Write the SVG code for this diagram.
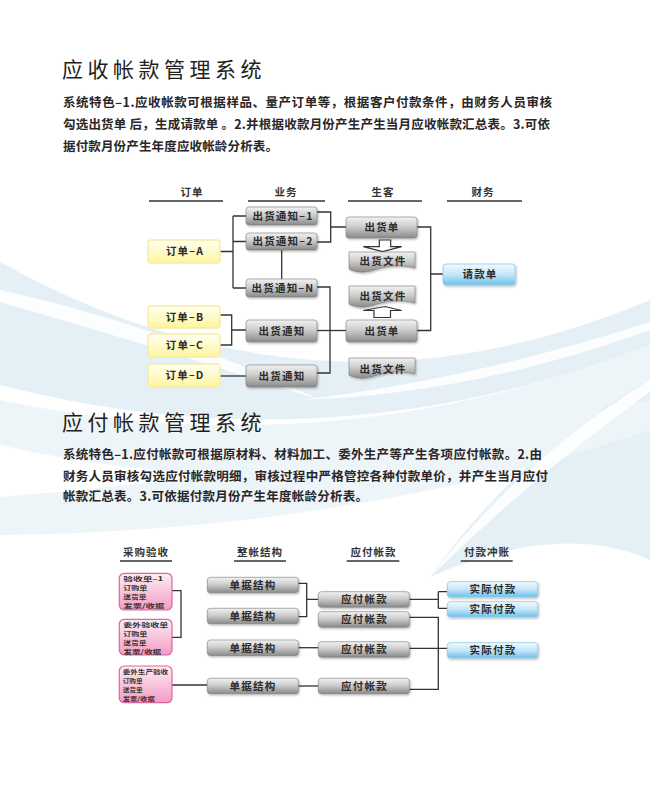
<svg xmlns="http://www.w3.org/2000/svg" width="650" height="791" viewBox="0 0 650 791">
<defs>
<linearGradient id="gGray" x1="0" y1="0" x2="0" y2="1">
<stop offset="0" stop-color="#f2f2f2"/><stop offset="0.45" stop-color="#cdcdcd"/><stop offset="1" stop-color="#8a8a8a"/>
</linearGradient>
<linearGradient id="gYellow" x1="0" y1="0" x2="0" y2="1">
<stop offset="0" stop-color="#fffff2"/><stop offset="1" stop-color="#fff59e"/>
</linearGradient>
<linearGradient id="gBlue" x1="0" y1="0" x2="0" y2="1">
<stop offset="0" stop-color="#f2faff"/><stop offset="0.5" stop-color="#c4e6f8"/><stop offset="1" stop-color="#6dc1ea"/>
</linearGradient>
<linearGradient id="gPink" x1="0" y1="0" x2="0" y2="1">
<stop offset="0" stop-color="#fdedf4"/><stop offset="1" stop-color="#f29cc4"/>
</linearGradient>
<filter id="sh" x="-10%" y="-20%" width="125%" height="160%">
<feDropShadow dx="1" dy="1.2" stdDeviation="0.8" flood-color="#000" flood-opacity="0.3"/>
</filter>
<style>
.t{font-family:"Noto Sans CJK SC","Noto Sans",sans-serif;fill:#231f20}
.title{font-size:21px;letter-spacing:4.5px}
.body{font-size:12.5px;font-weight:bold;fill:#2a2627}
.hdr{font-size:10.5px;letter-spacing:1px;text-anchor:middle;font-weight:bold;fill:#333}
.lbl{font-size:10.5px;letter-spacing:1.2px;text-anchor:middle;font-weight:bold;fill:#2b2b2b}
.pk{font-size:6.2px;font-weight:bold;fill:#333}
.hline{stroke:#333;stroke-width:1.6}
.conn path{fill:none;stroke:#333;stroke-width:1.3}
.gbox{fill:url(#gGray);stroke:#7c7c7c;stroke-width:0.6;filter:url(#sh)}
.ybox{fill:url(#gYellow);stroke:#f6eca6;stroke-width:1.4}
.bbox{fill:url(#gBlue);stroke:#8ecbe8;stroke-width:0.8;filter:url(#sh)}
.pbox{fill:url(#gPink);stroke:#e3639c;stroke-width:1.2}
.arr{fill:#fff;stroke:#333;stroke-width:1.2}
.bg1{fill:#e5f0f6}
.bg2{fill:#eef5f9}
.wh{fill:#fff;opacity:0.85}
</style>
</defs>
<rect width="650" height="791" fill="#fff"/>
<g id="background">
<path class="bg1" d="M0,262 Q320,440 650,300 L650,345 Q330,470 0,385 Z"/>
<path class="wh" d="M0,290 Q160,325 320,400 Q150,345 0,302 Z"/>
<path class="wh" d="M650,322 Q470,380 300,400 Q470,395 650,330 Z"/>
<path class="bg2" d="M0,400 Q330,470 650,345 L650,410 Q330,520 0,445 Z"/>
<path class="bg1" d="M430,577 Q520,450 650,380 L650,560 Q560,520 430,577 Z"/>
<path class="bg2" d="M0,497 Q330,470 650,400 L650,430 Q360,530 0,535 Z"/>
<path class="wh" d="M650,380 Q520,460 430,577 Q540,470 650,392 Z"/>
</g>

<g id="section1-text">
<text class="t title" x="62" y="77">应收帐款管理系统</text>
<text class="t body" x="63" y="107" textLength="489">系统特色–1.应收帐款可根据样品、量产订单等，根据客户付款条件，由财务人员审核</text>
<text class="t body" x="63" y="128.5" textLength="487">勾选出货单 后，生成请款单 。2.并根据收款月份产生产生当月应收帐款汇总表。3.可依</text>
<text class="t body" x="63" y="150.5" textLength="215">据付款月份产生年度应收帐龄分析表。</text>
</g>

<g id="headers1">
<text class="t hdr" x="192" y="196">订单</text>
<text class="t hdr" x="286" y="196">业务</text>
<text class="t hdr" x="383" y="196">生客</text>
<text class="t hdr" x="483" y="196">财务</text>
<line class="hline" x1="149" y1="201" x2="223" y2="201"/>
<line class="hline" x1="248" y1="201" x2="325" y2="201"/>
<line class="hline" x1="348" y1="201" x2="422" y2="201"/>
<line class="hline" x1="447" y1="201" x2="522" y2="201"/>
</g>

<g id="connectors1" class="conn">
<path d="M220,251.5 H233 M233,216 V288 M233,216 H246 M233,241.5 H246 M233,288 H246"/>
<path d="M281.7,250 V279"/>
<path d="M317,212 H330.7 V242 H317 M330.7,227 H346"/>
<path d="M317,287 H330 V373 H317"/>
<path d="M220,315 H231.7 V345 H220 M231.7,330 H246"/>
<path d="M317,330.5 H346"/>
<path d="M220,376 H246"/>
<path d="M417,227 H430.7 V330.5 H417 M430.7,274 H443"/>
</g>

<g id="order-a"><rect class="ybox" x="148" y="240" width="72" height="23" rx="3"/><text class="t lbl" x="185" y="255.2">订单–A</text></g>
<g id="order-b"><rect class="ybox" x="148" y="306" width="72" height="22" rx="3"/><text class="t lbl" x="185" y="320.7">订单–B</text></g>
<g id="order-c"><rect class="ybox" x="148" y="334" width="72" height="23" rx="3"/><text class="t lbl" x="185" y="349.2">订单–C</text></g>
<g id="order-d"><rect class="ybox" x="148" y="364" width="72" height="23" rx="3"/><text class="t lbl" x="185" y="379.2">订单–D</text></g>

<g id="notice-1"><rect class="gbox" x="246" y="207" width="71" height="18" rx="3"/><text class="t lbl" x="283" y="219.7">出货通知–1</text></g>
<g id="notice-2"><rect class="gbox" x="246" y="233" width="71" height="17" rx="3"/><text class="t lbl" x="283" y="245.2">出货通知–2</text></g>
<g id="notice-n"><rect class="gbox" x="246" y="279" width="71" height="18" rx="3"/><text class="t lbl" x="283" y="291.7">出货通知–N</text></g>
<g id="notice-bc"><rect class="gbox" x="246" y="320" width="71" height="22" rx="3"/><text class="t lbl" x="282" y="334.7">出货通知</text></g>
<g id="notice-d"><rect class="gbox" x="246" y="365" width="71" height="22" rx="3"/><text class="t lbl" x="282" y="379.7">出货通知</text></g>

<g id="ship-1"><rect class="gbox" x="346" y="217" width="71" height="21" rx="3"/><text class="t lbl" x="382" y="231.2">出货单</text></g>
<g id="arrow-down"><path class="arr" d="M379.3,240 H390.7 V246.7 H401.7 L382.5,251.7 L363.3,246.7 H379.3 Z"/></g>
<g id="doc-1"><path class="gbox" d="M349,252 H415 V268 C399,264 386,266 374,270 C365,273 357,273 349,269 Z"/><text class="t lbl" x="383" y="265.4">出货文件</text></g>
<g id="doc-2"><path class="gbox" d="M349,286 H415 V303 C399,299 386,301 374,305 C365,308 357,308 349,304 Z"/><text class="t lbl" x="383" y="300.4">出货文件</text></g>
<g id="arrow-up"><path class="arr" d="M374,317.5 H390.5 V310.5 H401.7 L385,306.5 L363.3,310.5 H374 Z"/></g>
<g id="ship-2"><rect class="gbox" x="346" y="320" width="71" height="22" rx="3"/><text class="t lbl" x="382" y="334.7">出货单</text></g>
<g id="doc-3"><path class="gbox" d="M349,358 H415 V374 C399,370 386,372 374,376 C365,379 357,379 349,375 Z"/><text class="t lbl" x="383" y="373">出货文件</text></g>
<g id="invoice"><rect class="bbox" x="443" y="264" width="72" height="21" rx="3"/><text class="t lbl" x="480" y="278.2">请款单</text></g>

<g id="section2-text">
<text class="t title" x="62" y="430">应付帐款管理系统</text>
<text class="t body" x="63" y="459" textLength="479">系统特色–1.应付帐款可根据原材料、材料加工、委外生产等产生各项应付帐款。2.由</text>
<text class="t body" x="63" y="481" textLength="485">财务人员审核勾选应付帐款明细，审核过程中严格管控各种付款单价，并产生当月应付</text>
<text class="t body" x="63" y="501" textLength="305">帐款汇总表。3.可依据付款月份产生年度帐龄分析表。</text>
</g>

<g id="headers2">
<text class="t hdr" x="146" y="556">采购验收</text>
<text class="t hdr" x="260" y="556">整帐结构</text>
<text class="t hdr" x="373.5" y="556">应付帐款</text>
<text class="t hdr" x="487" y="556">付款冲账</text>
<line class="hline" x1="120" y1="561" x2="172" y2="561"/>
<line class="hline" x1="234" y1="561" x2="286" y2="561"/>
<line class="hline" x1="346.7" y1="561" x2="399.3" y2="561"/>
<line class="hline" x1="460.7" y1="561" x2="512.7" y2="561"/>
</g>

<g id="connectors2" class="conn">
<path d="M172,590.7 H181 V637.3 H172"/>
<path d="M172,685 H207.3"/>
<path d="M298.3,583.3 H306.7 V616.7 H298.3 M306.7,599.3 H318.3"/>
<path d="M298.3,647.7 H318.3"/>
<path d="M298.3,686 H318.3"/>
<path d="M409.3,599.3 H438.3 M438.3,591.7 V608.3 M438.3,591.7 H447.3 M438.3,608.3 H447.3"/>
<path d="M409.3,617.3 H438.3 V689.3 H409.3"/>
<path d="M409.3,648.3 H447.3"/>
</g>

<g id="receipt-1"><rect class="pbox" x="119.3" y="573.3" width="52.7" height="36.7" rx="5"/>
<text class="t pk" x="123.3" y="581" textLength="40" lengthAdjust="spacingAndGlyphs">验收单–1</text>
<text class="t pk" x="123.3" y="590" textLength="24" lengthAdjust="spacingAndGlyphs">订购单</text>
<text class="t pk" x="123.3" y="599" textLength="23" lengthAdjust="spacingAndGlyphs">送货单</text>
<text class="t pk" x="123.3" y="608" textLength="41" lengthAdjust="spacingAndGlyphs">发票/收据</text></g>
<g id="receipt-2"><rect class="pbox" x="119.3" y="619.3" width="52.7" height="35.7" rx="5"/>
<text class="t pk" x="123.3" y="627" textLength="45" lengthAdjust="spacingAndGlyphs">委外验收单</text>
<text class="t pk" x="123.3" y="636" textLength="24" lengthAdjust="spacingAndGlyphs">订购单</text>
<text class="t pk" x="123.3" y="645" textLength="23" lengthAdjust="spacingAndGlyphs">送货单</text>
<text class="t pk" x="123.3" y="654" textLength="38" lengthAdjust="spacingAndGlyphs">发票/收据</text></g>
<g id="receipt-3"><rect class="pbox" x="119.3" y="666" width="52.7" height="36.7" rx="5"/>
<text class="t pk" x="122.7" y="674" textLength="45.5" lengthAdjust="spacingAndGlyphs">委外生产验收</text>
<text class="t pk" x="122.7" y="683" textLength="20" lengthAdjust="spacingAndGlyphs">订购单</text>
<text class="t pk" x="122.7" y="692" textLength="20" lengthAdjust="spacingAndGlyphs">送货单</text>
<text class="t pk" x="122.7" y="701" textLength="32" lengthAdjust="spacingAndGlyphs">发票/收据</text></g>

<g id="struct-1"><rect class="gbox" x="207.3" y="577.3" width="91" height="15.5" rx="3"/><text class="t lbl" x="253" y="588.8">单据结构</text></g>
<g id="struct-2"><rect class="gbox" x="207.3" y="608.3" width="91" height="15.5" rx="3"/><text class="t lbl" x="253" y="619.8">单据结构</text></g>
<g id="struct-3"><rect class="gbox" x="207.3" y="640" width="91" height="15.5" rx="3"/><text class="t lbl" x="253" y="651.5">单据结构</text></g>
<g id="struct-4"><rect class="gbox" x="207.3" y="678.3" width="91" height="15.5" rx="3"/><text class="t lbl" x="253" y="689.8">单据结构</text></g>

<g id="payable-1"><rect class="gbox" x="318.3" y="591.7" width="91" height="15.5" rx="3"/><text class="t lbl" x="364.5" y="603.2">应付帐款</text></g>
<g id="payable-2"><rect class="gbox" x="318.3" y="611.7" width="91" height="15.5" rx="3"/><text class="t lbl" x="364.5" y="623.2">应付帐款</text></g>
<g id="payable-3"><rect class="gbox" x="318.3" y="641.7" width="91" height="15.5" rx="3"/><text class="t lbl" x="364.5" y="653.2">应付帐款</text></g>
<g id="payable-4"><rect class="gbox" x="318.3" y="678.3" width="91" height="15.5" rx="3"/><text class="t lbl" x="364.5" y="689.8">应付帐款</text></g>

<g id="pay-1"><rect class="bbox" x="447.3" y="581.7" width="90.4" height="15.3" rx="3"/><text class="t lbl" x="493" y="593">实际付款</text></g>
<g id="pay-2"><rect class="bbox" x="447.3" y="601.7" width="90.4" height="15.3" rx="3"/><text class="t lbl" x="493" y="613">实际付款</text></g>
<g id="pay-3"><rect class="bbox" x="447.3" y="642.7" width="90.4" height="15.3" rx="3"/><text class="t lbl" x="493" y="654">实际付款</text></g>
</svg>
